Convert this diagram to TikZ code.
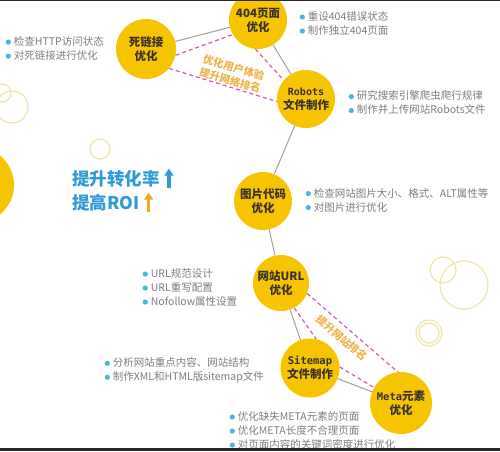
\documentclass[tikz,border=0pt]{standalone}
\usepackage{fontspec}
\setmainfont{Noto Sans CJK SC}
\newfontfamily\mono{DejaVu Sans Mono}
\usetikzlibrary{arrows.meta}
\definecolor{yel}{RGB}{246,196,0}
\definecolor{ntxt}{RGB}{58,50,40}
\definecolor{gline}{RGB}{160,160,160}
\definecolor{pink}{RGB}{214,90,181}
\definecolor{orng}{RGB}{239,178,74}
\definecolor{bcol}{RGB}{77,179,230}
\definecolor{ltxt}{RGB}{125,125,125}
\definecolor{blu}{RGB}{46,154,214}
\definecolor{aorg}{RGB}{245,166,35}
\definecolor{ringc}{RGB}{243,228,166}
\definecolor{frame}{RGB}{40,40,40}
\newcommand{\bdot}{\tikz[baseline=-0.6ex]\fill[bcol] (0,0) circle (2.6pt);\hspace{3pt}}

\begin{document}
\begin{tikzpicture}[x=1pt, y=-1pt,
    ball/.style={circle, fill=yel, inner sep=0pt, minimum size=#1, align=center, text=ntxt, font=\fontsize{11.5}{14}\selectfont\bfseries},
    ring/.style={draw=ringc, line width=1.2pt},
    link/.style={draw=gline, line width=1pt},
    pinkline/.style={draw=pink, line width=1.2pt, dash pattern=on 4pt off 3pt},
    list/.style={anchor=west, align=left, inner sep=0pt, text=ltxt, font=\fontsize{10.5}{14}\selectfont},
    tag/.style={text=orng, align=center, font=\fontsize{10.5}{13}\selectfont\bfseries},
    big/.style={anchor=west, inner sep=0pt, text=blu, font=\fontsize{17.5}{20}\selectfont\bfseries},
    uparr/.style={line width=3.5pt, -{Triangle[width=9pt,length=7pt]}}]

    \useasboundingbox (0,0) rectangle (500,451);
    \clip (0,0) rectangle (500,451);

    \draw [ring] (2,93) circle (9);
    \draw [ring] (12,107) circle (16);
    \draw [ring] (100,149) circle (10);
    \draw [ring] (443,270) circle (13);
    \draw [ring] (464,285) circle (24);
    \draw [ring] (429,333) circle (13);
    \draw [ring] (429,333) circle (10);

    \node [ball=76pt] (z) at (-24,185) {};
    \node [ball=60pt] (a) at (146,49) {死链接\\优化};
    \node [ball=58pt] (b) at (258,20) {404页面\\优化};
    \node [ball=58pt] (c) at (306,99) {{\mono\fontsize{10}{12}\selectfont Robots}\\文件制作};
    \node [ball=58pt] (d) at (263,201) {图片代码\\优化};
    \node [ball=56pt] (e) at (281,283) {网站URL\\优化};
    \node [ball=59pt] (f) at (310,368) {{\mono\fontsize{10.5}{12}\selectfont Sitemap}\\文件制作};
    \node [ball=62pt] (g) at (401,403) {{\mono\fontsize{10.5}{12}\selectfont Meta}元素\\优化};

    \draw [link] (a) -- (b);
    \draw [link] (b) -- (c);
    \draw [link] (c) -- (d);
    \draw [link] (d) -- (e);
    \draw [link] (e) -- (f);
    \draw [link] (f) -- (g);

    \draw [pinkline] (a.-12) -- (b.210);
    \draw [pinkline] (a.-40) -- (c.185);
    \draw [pinkline] (b.-95) -- (c.140);
    \draw [pinkline] (e.-22) -- (g.96);
    \draw [pinkline] (e.-62) -- (f.78);
    \draw [pinkline] (f.2) -- (g.150);

    \node [tag, rotate=-16] (t1) at (232,74) {优化用户体验\\提升网络排名};
    \node [tag, rotate=-41] (t2) at (342,338) {提升网站排名};

    \node [list] (l1) at (5.5,48.5) {\bdot 检查HTTP访问状态\\\bdot 对死链接进行优化};
    \node [list] (l2) at (299.5,23.5) {\bdot 重设404错误状态\\\bdot 制作独立404页面};
    \node [list] (l3) at (348.5,103) {\bdot 研究搜索引擎爬虫爬行规律\\\bdot 制作并上传网站Robots文件};
    \node [list] (l4) at (305.5,200) {\bdot 检查网站图片大小、格式、ALT属性等\\\bdot 对图片进行优化};
    \node [list] (l5) at (142.5,287.5) {\bdot URL规范设计\\\bdot URL重写配置\\\bdot Nofollow属性设置};
    \node [list] (l6) at (104.5,370.5) {\bdot 分析网站重点内容、网站结构\\\bdot 制作XML和HTML版sitemap文件};
    \node [list] (l7) at (229.5,430.5) {\bdot 优化缺失META元素的页面\\\bdot 优化META长度不合理页面\\\bdot 对页面内容的关键词密度进行优化};

    \node [big] (p) at (72,179) {提升转化率};
    \node [big] (q) at (72,203) {提高ROI};
    \coordinate (p1) at ([xshift=9pt]p.south east);
    \coordinate (q1) at ([xshift=9pt]q.south east);
    \draw [uparr, blu] (p1) -- ++(0,-19);
    \draw [uparr, aorg] (q1) -- ++(0,-19);

    \fill [frame] (0,0) rectangle (500,1.2);
    \fill [frame] (0,448) rectangle (500,451);

\end{tikzpicture}
\end{document}
